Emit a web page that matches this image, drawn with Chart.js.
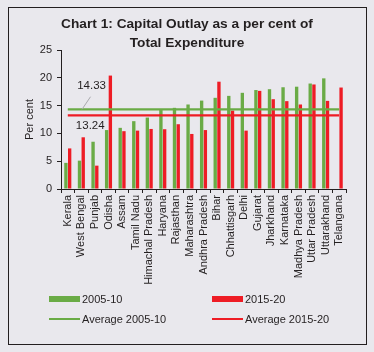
<!DOCTYPE html>
<html><head><meta charset="utf-8">
<script src="https://cdn.jsdelivr.net/npm/chart.js@4"></script>
<style>
html,body{margin:0;padding:0;background:#e9e8ed;width:374px;height:352px;overflow:hidden;font-family:"Liberation Sans",Arial,sans-serif;color:#231f20}
#frame{position:absolute;left:8px;top:7px;width:357px;height:336px;border:1px solid #231f20;}
#title{position:absolute;left:0;width:374px;top:14px;text-align:center;font-weight:bold;font-size:13.7px;line-height:19px;}
#wrap{position:absolute;left:0;top:0;width:374px;height:352px;}
.lt{position:absolute;font-size:11px;line-height:13px;white-space:nowrap}
.sw{position:absolute}
</style></head>
<body>
<div id="frame"></div>
<div id="wrap"><canvas id="c" width="374" height="352"></canvas></div>
<div id="title">Chart 1: Capital Outlay as a per cent of<br>Total Expenditure</div>
<div id="legend"></div>
<script>
const categories = ["Kerala","West Bengal","Punjab","Odisha","Assam","Tamil Nadu","Himachal Pradesh","Haryana","Rajasthan","Maharashtra","Andhra Pradesh","Bihar","Chhattisgarh","Delhi","Gujarat","Jharkhand","Karnataka","Madhya Pradesh","Uttar Pradesh","Uttarakhand","Telangana"];
const series2005 = [4.7,5.1,8.5,10.6,11.0,12.2,12.85,14.2,14.6,15.2,15.9,16.4,16.75,17.3,17.8,17.95,18.3,18.4,18.97,19.9,null];
const series2015 = [7.3,9.3,4.2,20.4,10.4,10.5,10.8,10.75,11.65,9.9,10.6,19.3,14.1,10.5,17.65,16.15,15.8,15.2,18.8,15.85,18.25];
const avg2005 = 14.33;
const avg2015 = 13.24;
const yTicks = [0,5,10,15,20,25];
const seriesNames = ["2005-10","2015-20","Average 2005-10","Average 2015-20"];

const GREEN = '#6aab46';
const RED = '#ee1c25';
const INK = '#231f20';
const FONT = '"Liberation Sans", Arial, sans-serif';

const first = categories[0], last = categories[categories.length-1];

const notes = {
  id:'notes',
  afterDatasetsDraw(chart){
    const {ctx, scales:{x,y}} = chart;
    const step = x.getPixelForValue(1)-x.getPixelForValue(0);
    const gx = x.getPixelForValue(1) + step*0.75;
    ctx.save();
    ctx.font = '11.5px ' + FONT;
    ctx.fillStyle = INK; ctx.textAlign='center'; ctx.textBaseline='middle';
    ctx.fillText(avg2005.toFixed(2), gx, y.getPixelForValue(18.55));
    ctx.fillText(avg2015.toFixed(2), gx-1.3, y.getPixelForValue(11.35));
    ctx.strokeStyle='#a9a9ad'; ctx.lineWidth=1;
    ctx.beginPath();
    ctx.moveTo(gx-1, y.getPixelForValue(16.6));
    ctx.lineTo(gx-9.5, y.getPixelForValue(avg2005));
    ctx.stroke();
    ctx.restore();
  }
};

new Chart(document.getElementById('c'), {
  type:'bar',
  data:{
    labels: categories,
    datasets:[
      {type:'bar', label:seriesNames[0], data:series2005, backgroundColor:GREEN, categoryPercentage:0.55, barPercentage:0.9, order:2},
      {type:'bar', label:seriesNames[1], data:series2015, backgroundColor:RED, categoryPercentage:0.55, barPercentage:0.9, order:2},
      {type:'line', label:seriesNames[2], data:[{x:first,y:avg2005},{x:last,y:avg2005}], borderColor:GREEN, borderWidth:2.2, pointRadius:0, order:1},
      {type:'line', label:seriesNames[3], data:[{x:first,y:avg2015},{x:last,y:avg2015}], borderColor:RED, borderWidth:2.2, pointRadius:0, order:1}
    ]
  },
  options:{
    responsive:false, animation:false,
    layout:{padding:{left:18, top:50, right:28, bottom:63}},
    plugins:{legend:{display:false}, tooltip:{enabled:false}, title:{display:false}},
    scales:{
      x:{
        offset:true,
        grid:{display:true, drawOnChartArea:false, offset:true, tickLength:4, color:INK, tickColor:INK},
        border:{display:true, color:INK, width:1},
        ticks:{minRotation:90, maxRotation:90, autoSkip:false, padding:2, color:INK, font:{family:FONT, size:11}},
        afterFit(s){ s.height = 100; }
      },
      y:{
        min:0, max:25,
        afterBuildTicks(s){ s.ticks = yTicks.map(v=>({value:v})); },
        grid:{display:true, drawOnChartArea:false, tickLength:4, color:INK, tickColor:INK},
        border:{display:true, color:INK, width:1},
        ticks:{padding:5, color:INK, font:{family:FONT, size:11}},
        title:{display:true, text:'Per cent', color:INK, font:{family:FONT, size:11}, padding:{top:5,bottom:0}},
        afterFit(s){ s.width = 43; }
      }
    }
  },
  plugins:[notes]
});

// HTML legend
const lg = document.getElementById('legend');
const items = [
  {name:seriesNames[0], color:GREEN, kind:'box', x:49, y:299},
  {name:seriesNames[1], color:RED, kind:'box', x:212, y:299},
  {name:seriesNames[2], color:GREEN, kind:'line', x:49, y:319},
  {name:seriesNames[3], color:RED, kind:'line', x:212, y:319}
];
items.forEach(it=>{
  const sw = document.createElement('div');
  sw.className='sw';
  const h = it.kind==='box'?6:2;
  sw.style.cssText = `left:${it.x}px;top:${it.y-h/2}px;width:31px;height:${h}px;background:${it.color}`;
  lg.appendChild(sw);
  const t = document.createElement('div');
  t.className='lt';
  t.textContent = it.name;
  t.style.left = (it.x+33)+'px';
  t.style.top = (it.y-6.5)+'px';
  lg.appendChild(t);
});
</script>
</body></html>
